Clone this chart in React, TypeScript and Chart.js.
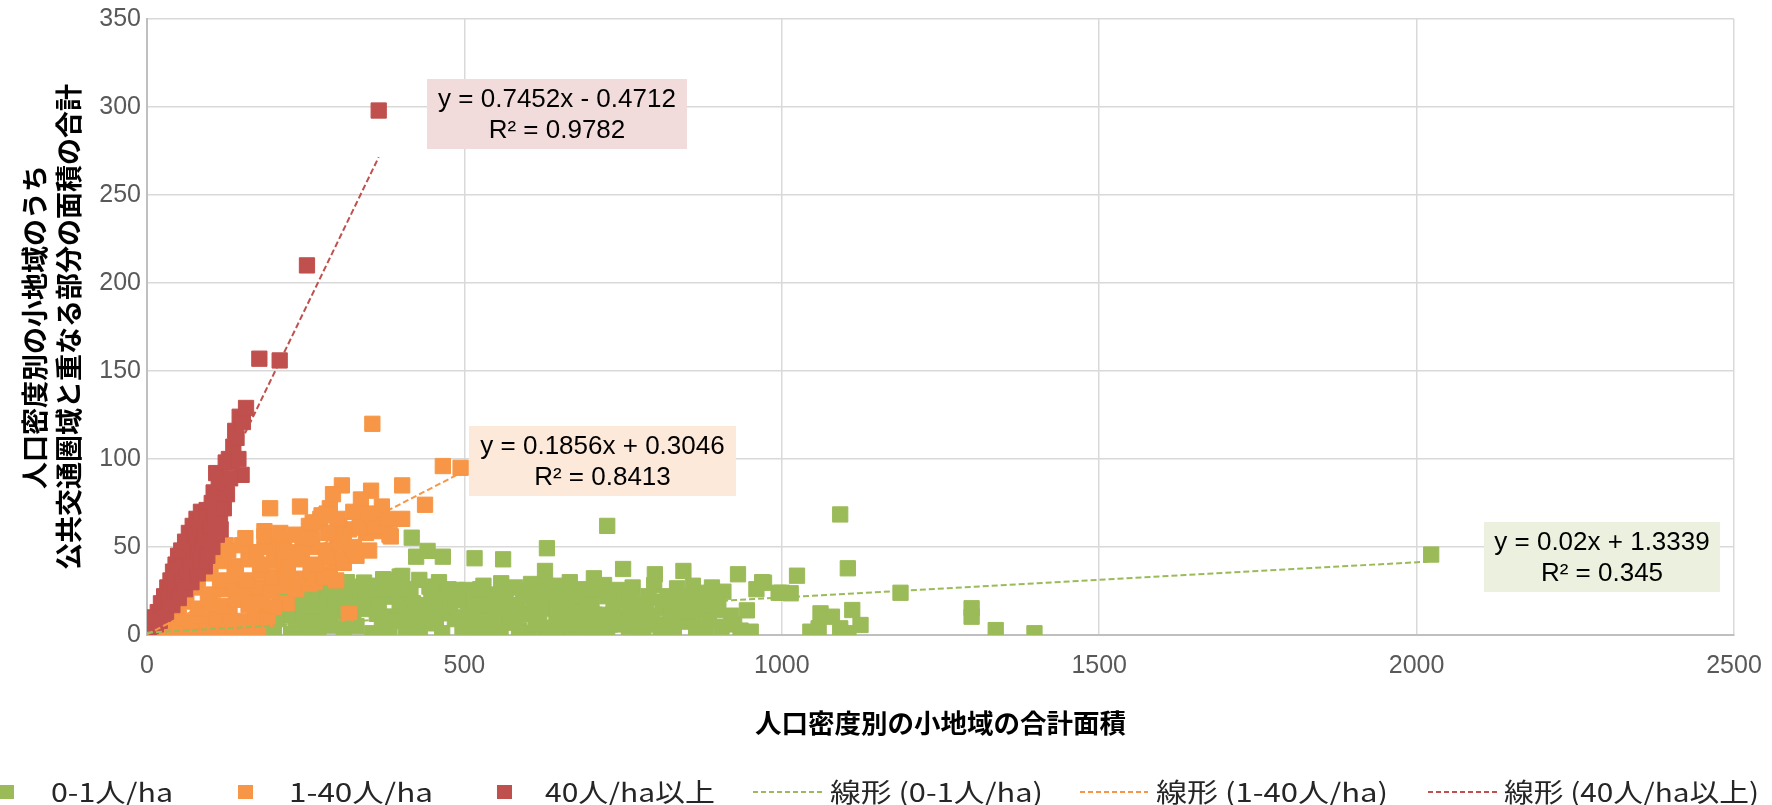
import { useEffect, useRef } from 'react';
import { Chart, registerables } from 'chart.js';

Chart.register(...registerables);

// ---------- data ----------
const seriesNames = ['0-1人/ha', '1-40人/ha', '40人/ha以上'];
const trendNames = ['線形 (0-1人/ha)', '線形 (1-40人/ha)', '線形 (40人/ha以上)'];
const xTickValues = [0, 500, 1000, 1500, 2000, 2500];
const yTickValues = [0, 50, 100, 150, 200, 250, 300, 350];
const xAxisTitle = '人口密度別の小地域の合計面積';
const yAxisTitle = ['人口密度別の小地域のうち', '公共交通圏域と重なる部分の面積の合計'];

const greenPts: [number, number][] = [
  [2023, 45.7], [1092, 68.5], [725, 62], [630, 49.3], [417, 55.3], [442, 47.8], [424, 44.5], [466, 44.5],
  [516, 43.6], [561, 43], [627, 36.4], [750, 37.5], [800, 34.5], [845, 36.4], [931, 34.5], [969, 30],
  [995, 24], [704, 32.2], [666, 30], [720, 28.4], [799, 28.4], [741, 25.6], [635, 24.6], [652, 25.6],
  [908, 24.6], [880, 21.8], [786, 17.5], [818, 15.2], [896, 14.2], [841, 7.6], [905, 4.7], [951, 1.9],
  [809, 1.9], [759, 4.7], [707, 6.6], [681, 21.8], [691, 14.2], [660, 10.4], [618, 10.4], [639, 18],
  [576, 10.4], [558, 29.4], [592, 21.8], [568, 14.2], [539, 18], [524, 14.2], [503, 25.6], [487, 25.6],
  [497, 4.7], [471, 12.3], [445, 27.5], [448, 19.9], [429, 31.3], [398, 33.2], [374, 31.3], [419, 18],
  [398, 14.2], [377, 21.8], [455, 6.6], [408, 4.7], [382, 4.7], [550, 4.7], [586, 2.8], [733, 10.4],
  [770, 12.3], [744, 19.9],
  [1104, 37.9], [1024, 33.7], [972, 29.7], [1000, 24], [1014, 23.7], [1187, 24], [1061, 12.3], [1079, 10.4],
  [1111, 14.2], [1124, 5.7], [1092, 3.8], [1105, 1], [1045, 1.9], [1058, 3.8], [1299, 15.2], [1299, 10.4],
  [1337, 2.8], [1398, 1],
  [402, 33.6], [372, 31.7], [342, 29.8], [288, 29.8], [300, 26], [264, 22.3], [215, 21.3], [240, 16.6],
  [191, 11], [173, 5.3], [137, 0.5], [107, 0.5], [318, 11], [348, 14.7], [288, 5.3], [378, 1.5], [227, 0.5],
  [125, 1.5], [150, 2.5], [200, 3], [250, 1], [270, 4], [310, 2], [330, 5], [355, 1], [430, 2], [465, 1],
  [520, 3], [540, 0.8], [600, 1.2], [625, 4], [650, 1.5], [675, 3.5], [695, 1], [725, 2], [782, 3],
  [830, 4.5], [865, 1.5], [880, 3.8], [935, 2.5],
  [205, 9], [228, 11], [255, 8.5], [275, 12], [300, 14], [325, 9.5], [362, 12], [385, 10.5], [430, 11],
  [485, 9], [510, 11.5], [535, 8], [600, 12.5], [645, 9], [670, 13], [715, 11.5], [755, 9.5], [795, 11],
  [860, 9], [850, 13.5],
  [210, 17], [255, 20], [280, 17.5], [305, 21], [325, 18], [352, 20.5], [395, 23], [415, 24], [470, 21],
  [515, 19], [545, 23], [610, 20], [660, 21], [700, 19], [725, 22], [760, 21], [820, 22], [860, 19.5],
  [270, 27], [315, 30], [330, 27.5], [355, 28], [390, 27], [460, 30], [475, 26], [530, 28], [580, 27],
  [605, 29], [690, 26], [765, 27], [835, 26.5], [860, 28], [890, 27],
  [392, 8], [415, 3], [440, 7], [452, 15], [463, 22], [478, 16], [493, 10], [505, 19], [528, 22], [548, 12],
  [557, 2], [572, 7], [583, 17], [596, 25], [612, 6], [622, 15], [628, 28], [655, 17], [668, 6], [684, 9],
  [700, 14], [712, 2], [735, 15], [748, 6], [772, 18], [780, 8], [805, 6], [812, 19], [825, 12], [845, 22],
  [872, 14], [885, 8], [920, 11], [180, 1.5], [160, 5], [235, 6], [245, 12], [262, 16], [290, 9], [338, 19],
  [370, 7], [405, 26], [260, 3], [285, 22], [315, 6],
  [232, 24], [248, 28], [296, 18], [320, 24], [345, 24], [365, 18], [368, 26], [410, 10], [435, 17], [450, 25],
  [490, 20], [510, 5], [525, 26], [560, 18], [565, 24], [590, 12], [615, 24], [640, 4], [645, 28], [675, 24],
  [705, 26], [730, 6], [760, 14], [790, 22], [815, 4], [840, 17], [870, 24], [900, 18], [925, 6], [945, 14],
  [960, 26],
];

const orangePts: [number, number][] = [
  [355, 120], [466, 96], [494, 95], [402, 85], [307, 85], [438, 74], [370, 73], [194, 72], [241, 73],
  [402, 66], [372, 64], [384, 56], [360, 59], [342, 67], [318, 60], [288, 72], [273, 66], [255, 62],
  [300, 56], [318, 49], [300, 43], [288, 35], [245, 52], [215, 54], [185, 59], [124, 51], [167, 47],
  [227, 45], [258, 39], [264, 30], [209, 30], [318, 12], [353, 82], [337, 77], [293, 80], [303, 62],
  [261, 64], [283, 69], [345, 58], [382, 57], [220, 18], [146, 24], [188, 12], [146, 5], [94, 5], [115, 27.5],
  [15, 2], [35, 1.5], [55, 3], [75, 1], [95, 2.5], [115, 1.5], [135, 3], [155, 1], [175, 2.5],
  [30, 8], [50, 10], [70, 7.5], [90, 11], [110, 9], [130, 12], [150, 8], [170, 10.5], [190, 9],
  [45, 16], [62, 19], [80, 15], [100, 18], [120, 16.5], [140, 20], [160, 17], [180, 19.5], [200, 16],
  [60, 24], [78, 27], [96, 23], [118, 26], [135, 28], [155, 24], [175, 27], [195, 25], [215, 28], [235, 26], [255, 29],
  [80, 32], [98, 35], [118, 31], [138, 34], [158, 31], [178, 36], [198, 33], [218, 35], [238, 32], [258, 36],
  [278, 33], [298, 31],
  [100, 40], [120, 42], [140, 39], [160, 43], [180, 40], [200, 42], [222, 39], [244, 43], [266, 40], [288, 44],
  [310, 41], [330, 45],
  [128, 48], [150, 51], [172, 47], [194, 50], [216, 48], [238, 47], [260, 50], [282, 48], [304, 52], [326, 50], [350, 48],
  [155, 55], [185, 56], [210, 58], [235, 57], [260, 55], [285, 58], [310, 57], [335, 61], [360, 62],
  [275, 68], [300, 66], [325, 70], [350, 69], [378, 66],
];

const redPts: [number, number][] = [
  [3, 2], [6, 5], [9, 7], [12, 10], [14, 6], [17, 13], [20, 11], [22, 18], [25, 15], [27, 22], [30, 18],
  [32, 27], [34, 21], [37, 31], [39, 25], [41, 36], [43, 29], [45, 40], [47, 33], [49, 45], [52, 38],
  [54, 48], [56, 31], [58, 43], [60, 53], [62, 36], [64, 47], [66, 58], [68, 40], [70, 52], [72, 62],
  [74, 44], [76, 57], [78, 66], [80, 47], [83, 60], [85, 70], [87, 52], [89, 64], [91, 39], [93, 57],
  [94, 71], [96, 67], [98, 53], [100, 62], [102, 75], [105, 81], [107, 68], [109, 92], [111, 75], [115, 65],
  [118, 84], [129, 100], [133, 99], [136, 107], [139, 116], [141, 112], [146, 124], [149, 91], [151, 121],
  [156, 129], [177, 157], [209, 156], [252, 210], [365, 298],
  [20, 8], [30, 12], [40, 17], [50, 21], [60, 26], [70, 30], [80, 35], [86, 42], [95, 45], [103, 50],
  [110, 57], [116, 60], [121, 72], [126, 80], [131, 89], [124, 98], [144, 100], [113, 86],
];

// trend lines (end points of the fitted lines shown in the chart)
const greenTrend: [number, number][] = [[0, 1.33], [2023, 41.8]];
const orangeTrend: [number, number][] = [[0, 0.3], [494, 92]];
const redTrend: [number, number][] = [[0, -0.47], [365, 271.5]];

const equationLabels = [
  ['y = 0.02x + 1.3339', 'R² = 0.345'],
  ['y = 0.1856x + 0.3046', 'R² = 0.8413'],
  ['y = 0.7452x - 0.4712', 'R² = 0.9782'],
];

// ---------- styles ----------
const GREEN = '#9bbb59';
const ORANGE = '#f79646';
const RED = '#c0504d';
const colors = [GREEN, ORANGE, RED];
const boxFills = ['#ebf1de', '#fde9d9', '#f2dcdb'];
const labelBoxes = [
  { x: 1484, y: 522, w: 236, h: 70 },
  { x: 469, y: 426, w: 267, h: 70 },
  { x: 427, y: 79, w: 260, h: 70 },
];
const legendMarks = [
  { x: 0, w: 14 }, { x: 238, w: 15 }, { x: 497, w: 15 },
  { x: 753, w: 70 }, { x: 1080, w: 68 }, { x: 1428, w: 69 },
];
const legendTexts = [
  { x: 51, w: 122 }, { x: 289, w: 144 }, { x: 545, w: 170 },
  { x: 830, w: 213 }, { x: 1156, w: 232 }, { x: 1504, w: 255 },
];
const LEGEND_Y = 792;

const toXY = (pts: [number, number][]) => pts.map(([x, y]) => ({ x, y }));

const overlayPlugin = {
  id: 'overlay',
  afterDatasetsDraw(chart: any) {
    const ctx = chart.ctx as CanvasRenderingContext2D;
    ctx.save();
    labelBoxes.forEach((b, i) => {
      ctx.fillStyle = boxFills[i];
      ctx.fillRect(b.x, b.y, b.w, b.h);
      ctx.fillStyle = '#000';
      ctx.font = '26px "Liberation Sans", Arial, sans-serif';
      ctx.textAlign = 'center';
      ctx.textBaseline = 'middle';
      const cx = b.x + b.w / 2;
      ctx.fillText(equationLabels[i][0], cx, b.y + 21);
      ctx.fillText(equationLabels[i][1], cx, b.y + 52);
    });
    ctx.restore();
  },
  afterDraw(chart: any) {
    const ctx = chart.ctx as CanvasRenderingContext2D;
    ctx.save();
    const names = [...seriesNames, ...trendNames];
    names.forEach((name, i) => {
      const m = legendMarks[i];
      const c = colors[i % 3];
      if (i < 3) {
        ctx.fillStyle = c;
        ctx.fillRect(m.x, LEGEND_Y - 7, m.w, 14);
      } else {
        ctx.strokeStyle = c;
        ctx.lineWidth = 2;
        ctx.setLineDash([5, 3]);
        ctx.beginPath();
        ctx.moveTo(m.x, LEGEND_Y);
        ctx.lineTo(m.x + m.w, LEGEND_Y);
        ctx.stroke();
        ctx.setLineDash([]);
      }
      const t = legendTexts[i];
      ctx.font = '26px "Noto Sans CJK JP", sans-serif';
      ctx.fillStyle = '#262626';
      ctx.textAlign = 'left';
      ctx.textBaseline = 'middle';
      const w = ctx.measureText(name).width;
      ctx.save();
      ctx.translate(t.x, LEGEND_Y);
      ctx.scale(t.w / w, 1);
      ctx.fillText(name, 0, 0);
      ctx.restore();
    });
    ctx.restore();
  },
};

export default function App() {
  const ref = useRef<HTMLCanvasElement>(null);
  useEffect(() => {
    const canvas = ref.current;
    if (!canvas) return;
    const scatterDs = (label: string, pts: [number, number][], color: string, order: number) => ({
      type: 'scatter' as const,
      label,
      data: toXY(pts),
      backgroundColor: color,
      borderColor: color,
      borderWidth: 1,
      pointStyle: 'rect' as const,
      pointRadius: 10.8,
      pointHoverRadius: 10.8,
      order,
    });
    const trendDs = (label: string, pts: [number, number][], color: string) => ({
      type: 'scatter' as const,
      label,
      data: toXY(pts),
      showLine: true,
      borderColor: color,
      backgroundColor: color,
      borderWidth: 2,
      borderDash: [6, 3],
      pointRadius: 0,
      pointHoverRadius: 0,
      fill: false,
      order: 0,
    });
    const tickFont = { family: '"Liberation Sans", Arial, sans-serif', size: 25 };
    const chart = new Chart(canvas, {
      type: 'scatter',
      data: {
        datasets: [
          scatterDs(seriesNames[0], greenPts, GREEN, 3),
          scatterDs(seriesNames[1], orangePts, ORANGE, 2),
          scatterDs(seriesNames[2], redPts, RED, 1),
          trendDs(trendNames[0], greenTrend, GREEN),
          trendDs(trendNames[1], orangeTrend, ORANGE),
          trendDs(trendNames[2], redTrend, RED),
        ] as any,
      },
      options: {
        responsive: false,
        devicePixelRatio: 1,
        animation: false,
        layout: { padding: { left: 0, right: 38, top: 19, bottom: 50 } },
        plugins: {
          legend: { display: false },
          tooltip: { enabled: false },
        },
        scales: {
          x: {
            type: 'linear',
            min: 0,
            max: 2500,
            afterBuildTicks: (s: any) => { s.ticks = xTickValues.map((v) => ({ value: v })); },
            afterFit: (s: any) => { s.height = 120; },
            ticks: {
              color: '#595959',
              padding: 4,
              font: tickFont,
              callback: (v: any) => String(v),
            },
            grid: { color: '#d9d9d9', lineWidth: 1.5, drawTicks: true, tickLength: 12, tickColor: 'rgba(0,0,0,0)' },
            border: { color: '#bfbfbf', width: 2 },
            title: {
              display: true,
              text: xAxisTitle,
              color: '#000',
              font: { family: '"Noto Sans CJK JP", sans-serif', size: 26.5, weight: 'bold' },
              padding: { top: 0, bottom: 16 },
            },
          },
          y: {
            type: 'linear',
            min: 0,
            max: 350,
            afterBuildTicks: (s: any) => { s.ticks = yTickValues.map((v) => ({ value: v })); },
            afterFit: (s: any) => { s.width = 147; },
            ticks: {
              color: '#595959',
              padding: 4,
              font: tickFont,
              callback: (v: any) => String(v),
            },
            grid: { color: '#d9d9d9', lineWidth: 1.5, drawTicks: true, tickLength: 2, tickColor: 'rgba(0,0,0,0)' },
            border: { color: '#bfbfbf', width: 2 },
            title: {
              display: true,
              text: yAxisTitle,
              color: '#000',
              font: { family: '"Noto Sans CJK JP", sans-serif', size: 27, weight: 'bold', lineHeight: 1.26 },
              padding: { top: 18, bottom: 0 },
            },
          },
        },
      },
      plugins: [overlayPlugin],
    });
    return () => chart.destroy();
  }, []);
  return (
    <div style={{ position: 'absolute', left: 0, top: 0, width: 1772, height: 805, background: '#fff' }}>
      <canvas ref={ref} width={1772} height={805} style={{ display: 'block', width: 1772, height: 805 }} />
    </div>
  );
}
